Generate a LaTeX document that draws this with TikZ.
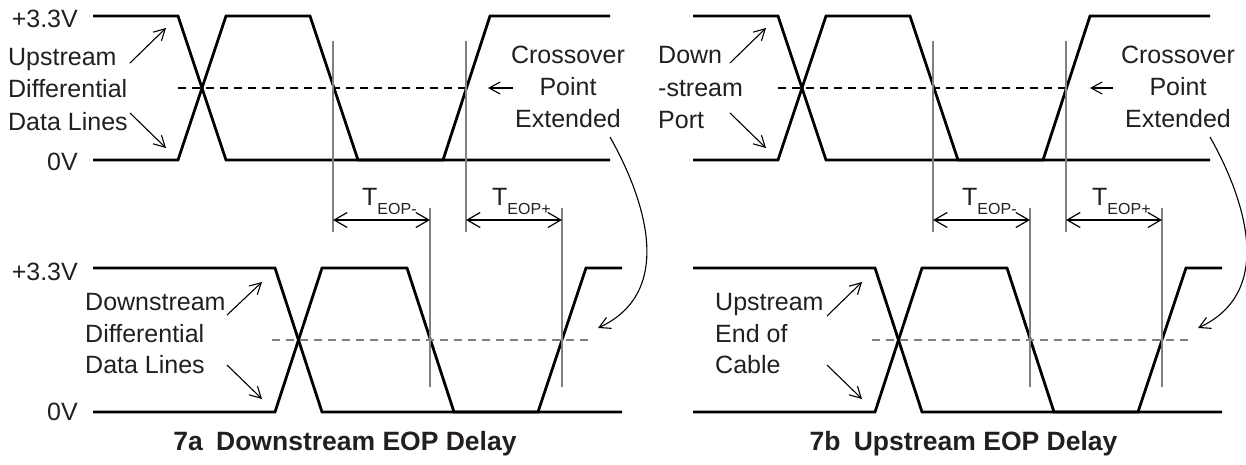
\documentclass[tikz,border=0pt]{standalone}
\usepackage{fontspec}
\setmainfont{Liberation Sans}
\usetikzlibrary{arrows.meta}
\definecolor{ink}{HTML}{231F20}
\definecolor{guide}{HTML}{808080}
\tikzset{
  sig/.style={line width=2.8pt, draw=black, line join=miter},
  guideline/.style={line width=1.3pt, draw=guide},
  xdash/.style={line width=1.2pt, dash pattern=on 8pt off 6pt},
  lbl/.style={inner sep=0pt, font=\fontsize{25}{32}\selectfont, text=ink},
  ttl/.style={inner sep=0pt, font=\fontsize{26.5}{32}\selectfont\bfseries, text=ink},
  ptr/.style={line width=1.1pt, -{Straight Barb[length=11pt,width=12pt]}},
  dimarr/.style={line width=1.2pt, {Straight Barb[length=13pt,width=15pt]}-{Straight Barb[length=13pt,width=15pt]}},
}
\newcommand{\teop}[1]{T\raisebox{-9pt}{\fontsize{16}{16}\selectfont EOP#1}}
\begin{document}
\begin{tikzpicture}[x=1pt,y=-1pt]
\useasboundingbox (0,0) rectangle (1246,464);

% ================= Panel 7a =================
% top waveforms
\draw[sig] (93,16) -- (178,16) -- (226,160) -- (610,160);
\draw[sig] (93,160) -- (178,160) -- (226,16) -- (310,16) -- (358,160) -- (443,160) -- (490,16) -- (610,16);
% bottom waveforms
\draw[sig] (93,268) -- (275,268) -- (322,412) -- (622,412);
\draw[sig] (93,412) -- (275,412) -- (322,268) -- (407,268) -- (454,412) -- (538,412) -- (586,268) -- (622,268);
% dashed crossover lines
\draw[xdash, black] (178,88) -- (468,88);
\draw[xdash, guide] (272,340) -- (588,340);
% guide verticals
\draw[guideline] (333,41) -- (333,232);
\draw[guideline] (466,41) -- (466,232);
\draw[guideline] (430,208) -- (430,387);
\draw[guideline] (562,208) -- (562,387);
% dimension arrows
\coordinate (aD1) at (333,220); \coordinate (aD2) at (430,220);
\coordinate (aD3) at (466,220); \coordinate (aD4) at (562,220);
\draw[dimarr] (aD1) -- (aD2);
\draw[dimarr] (aD3) -- (aD4);
\node[lbl, anchor=base west] (aTm) at (362,205) {\teop{-}};
\node[lbl, anchor=base west] (aTp) at (492,205) {\teop{+}};
% voltage labels
\node[lbl, anchor=base east] (aV1) at (78,27) {+3.3V};
\node[lbl, anchor=base east] (aV2) at (78,170) {0V};
\node[lbl, anchor=base east] (aV3) at (78,280) {+3.3V};
\node[lbl, anchor=base east] (aV4) at (78,420) {0V};
% upstream label
\node[lbl, anchor=base west] (aU1) at (8,65) {Upstream};
\node[lbl, anchor=base west] (aU2) at (8,97.5) {Differential};
\node[lbl, anchor=base west] (aU3) at (8,130) {Data Lines};
\coordinate (aUa) at (130,63); \coordinate (aUb) at (166,28);
\coordinate (aUc) at (130,113); \coordinate (aUd) at (166,148);
\draw[ptr] (aUa) -- (aUb);
\draw[ptr] (aUc) -- (aUd);
% downstream label
\node[lbl, anchor=base west] (aL1) at (85,310) {Downstream};
\node[lbl, anchor=base west] (aL2) at (85,342) {Differential};
\node[lbl, anchor=base west] (aL3) at (85,373) {Data Lines};
\coordinate (aLa) at (227,315); \coordinate (aLb) at (262,282);
\coordinate (aLc) at (227,365); \coordinate (aLd) at (262,399);
\draw[ptr] (aLa) -- (aLb);
\draw[ptr] (aLc) -- (aLd);
% crossover label
\node[lbl, anchor=base] (aC1) at (568,63) {Crossover};
\node[lbl, anchor=base] (aC2) at (568,95) {Point};
\node[lbl, anchor=base] (aC3) at (568,127) {Extended};
\coordinate (aCa) at (513,88); \coordinate (aCb) at (488,88);
\draw[ptr] (aCa) -- (aCb);
\coordinate (aCs) at (610,137); \coordinate (aCe) at (598,328);
\draw[ptr] (aCs) .. controls (640,190) and (680,290) .. (aCe);
% title
\node[ttl, anchor=base] (aT) at (345,450) {7a\hspace{0.5em}Downstream EOP Delay};

% ================= Panel 7b =================
\begin{scope}[xshift=600pt]
\draw[sig] (93,16) -- (178,16) -- (226,160) -- (610,160);
\draw[sig] (93,160) -- (178,160) -- (226,16) -- (310,16) -- (358,160) -- (443,160) -- (490,16) -- (610,16);
\draw[sig] (93,268) -- (275,268) -- (322,412) -- (622,412);
\draw[sig] (93,412) -- (275,412) -- (322,268) -- (407,268) -- (454,412) -- (538,412) -- (586,268) -- (622,268);
\draw[xdash, black] (178,88) -- (468,88);
\draw[xdash, guide] (272,340) -- (588,340);
\draw[guideline] (333,41) -- (333,232);
\draw[guideline] (466,41) -- (466,232);
\draw[guideline] (430,208) -- (430,387);
\draw[guideline] (562,208) -- (562,387);
\coordinate (bD1) at (333,220); \coordinate (bD2) at (430,220);
\coordinate (bD3) at (466,220); \coordinate (bD4) at (562,220);
\draw[dimarr] (bD1) -- (bD2);
\draw[dimarr] (bD3) -- (bD4);
\node[lbl, anchor=base west] (bTm) at (362,205) {\teop{-}};
\node[lbl, anchor=base west] (bTp) at (492,205) {\teop{+}};
% downstream port label
\node[lbl, anchor=base west] (bU1) at (58,63) {Down};
\node[lbl, anchor=base west] (bU2) at (58,96) {-stream};
\node[lbl, anchor=base west] (bU3) at (58,128) {Port};
\coordinate (bUa) at (130,63); \coordinate (bUb) at (166,28);
\coordinate (bUc) at (130,113); \coordinate (bUd) at (166,148);
\draw[ptr] (bUa) -- (bUb);
\draw[ptr] (bUc) -- (bUd);
% upstream end label
\node[lbl, anchor=base west] (bL1) at (115,310) {Upstream};
\node[lbl, anchor=base west] (bL2) at (115,342) {End of};
\node[lbl, anchor=base west] (bL3) at (115,373) {Cable};
\coordinate (bLa) at (227,316); \coordinate (bLb) at (262,282);
\coordinate (bLc) at (227,365); \coordinate (bLd) at (262,399);
\draw[ptr] (bLa) -- (bLb);
\draw[ptr] (bLc) -- (bLd);
% crossover label
\node[lbl, anchor=base] (bC1) at (578,63) {Crossover};
\node[lbl, anchor=base] (bC2) at (578,95) {Point};
\node[lbl, anchor=base] (bC3) at (578,127) {Extended};
\coordinate (bCa) at (513,88); \coordinate (bCb) at (490,88);
\draw[ptr] (bCa) -- (bCb);
\coordinate (bCs) at (610,137); \coordinate (bCe) at (598,328);
\draw[ptr] (bCs) .. controls (640,190) and (680,290) .. (bCe);
\node[ttl, anchor=base] (bT) at (363.5,450) {7b\hspace{0.5em}Upstream EOP Delay};
\end{scope}
\end{tikzpicture}
\end{document}
